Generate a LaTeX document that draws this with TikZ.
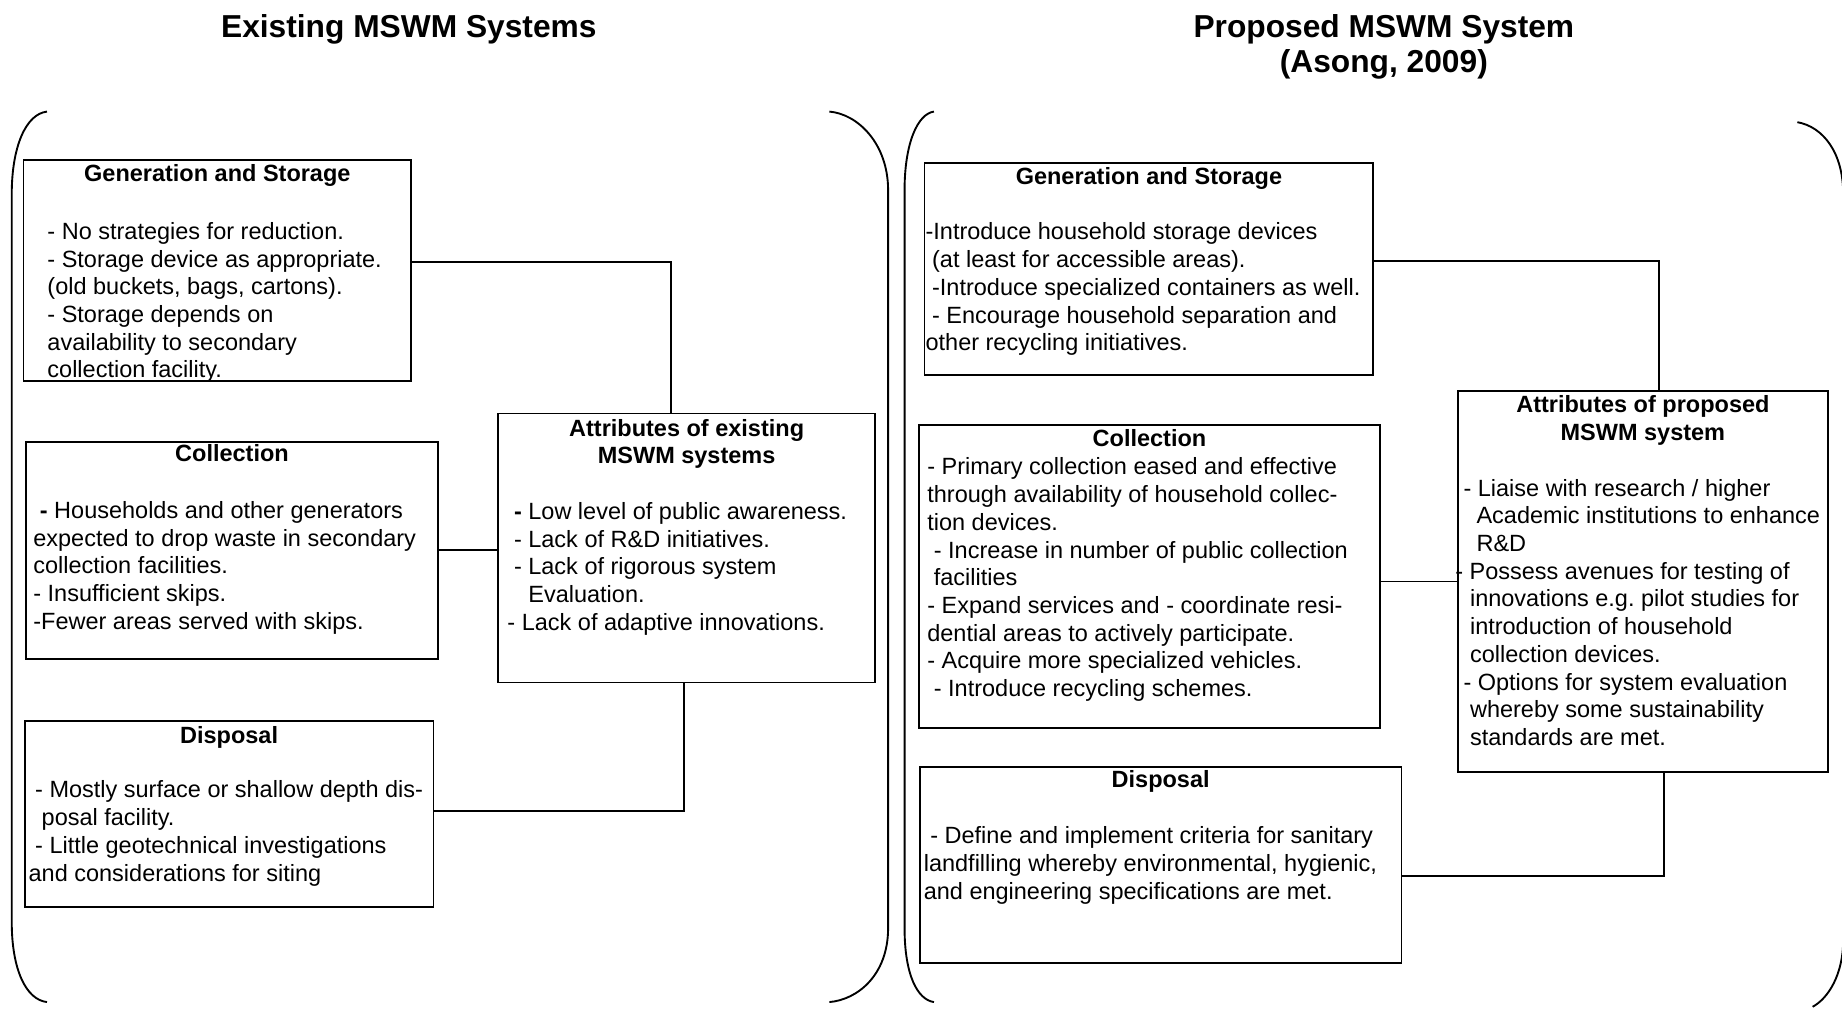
\documentclass[tikz,border=0pt]{standalone}
\usepackage{fontspec}
\setmainfont{Liberation Sans}
\usetikzlibrary{positioning}
\frenchspacing

\tikzset{
  box/.style={draw, line width=0.8pt, inner sep=0pt},
  head/.style={anchor=north, inner sep=0pt, align=center, font=\bfseries\fontsize{10}{11.8}\selectfont},
  txt/.style={anchor=north west, inner sep=0pt, align=left, font=\fontsize{10}{11.8}\selectfont},
  ttl/.style={anchor=north, inner sep=0pt, align=center, font=\bfseries\fontsize{13.5}{15}\selectfont},
  link/.style={line width=0.8pt},
  paren/.style={line width=0.8pt}
}
\newcommand{\lsp}[1][1]{\hspace*{#1\fontdimen2\font}}

\begin{document}
\begin{tikzpicture}[x=0.5pt,y=-0.5pt]
  \useasboundingbox (0,0) rectangle (1568,861);

  % titles
  \node[ttl] (ttlold) at (348,10.5) {\strut Existing MSWM Systems};
  \node[ttl] (ttlnew) at (1178,10.5) {\strut Proposed MSWM System\\(Asong, 2009)};

  % brackets
  \draw[paren] (40,95) .. controls (22,97) and (10,125) .. (10,165) -- (10,785)
    .. controls (10,825) and (22,851) .. (40,853);
  \draw[paren] (706,95) .. controls (730,97) and (756,122) .. (756,162) -- (756,790)
    .. controls (756,830) and (730,851) .. (706,853);
  \draw[paren] (795,95) .. controls (781,97) and (770,122) .. (770,162) -- (770,790)
    .. controls (770,830) and (781,851) .. (795,853);
  \draw[paren] (1530,104) .. controls (1552,108) and (1569,130) .. (1569,165) -- (1569,800)
    .. controls (1569,830) and (1556,850) .. (1543,857);

  % existing system
  \node[box, minimum width=165pt, minimum height=94pt] (gs1) at (185,230) {};
  \node[box, minimum width=175.5pt, minimum height=92.5pt] (col1) at (197.5,468.5) {};
  \node[box, minimum width=160.5pt, minimum height=114.5pt] (att1) at (584.5,466.5) {};
  \node[box, minimum width=174pt, minimum height=79pt] (dis1) at (195,693) {};

  \node[head] (gs1h) at (185,137.3) {\strut Generation and Storage};
  \node[txt] (gs1t) at (40,186.8) {\strut - No strategies for reduction.\\
    - Storage device as appropriate.\\
    (old buckets, bags, cartons).\\
    - Storage depends on\\
    availability to secondary\\
    collection facility.};

  \node[head] (col1h) at (197.5,376.3) {\strut Collection};
  \node[txt] (col1t) at (28,424.3) {\strut\lsp\textbf{-} Households and other generators\\
    expected to drop waste in secondary\\
    collection facilities.\\
    - Insufficient skips.\\
    -Fewer areas served with skips.};

  \node[head] (att1h) at (584.5,354.3) {\strut Attributes of existing\\MSWM systems};
  \node[txt] (att1t) at (431.6,425.3) {\strut\lsp\textbf{-} Low level of public awareness.\\
    \lsp- Lack of R\&D initiatives.\\
    \lsp- Lack of rigorous system\\
    \lsp\hphantom{- }Evaluation.\\
    - Lack of adaptive innovations.};

  \node[head] (dis1h) at (195,616.3) {\strut Disposal};
  \node[txt] (dis1t) at (24,662.3) {\strut\lsp- Mostly surface or shallow depth dis-\\
    \lsp[2]posal facility.\\
    \lsp- Little geotechnical investigations\\
    and considerations for siting};

  \draw[link] ([yshift=3.5pt]gs1.east) -| ([xshift=-6.75pt]att1.north);
  \draw[link] (col1.east) -- (col1.east -| att1.west);
  \draw[link] ([yshift=1.5pt]dis1.east) -| ([xshift=-1.25pt]att1.south);

  % proposed system
  \node[box, minimum width=191pt, minimum height=90pt] (gs2) at (978,229) {};
  \node[box, minimum width=196.5pt, minimum height=129pt] (col2) at (978.5,491) {};
  \node[box, minimum width=157.5pt, minimum height=162pt] (att2) at (1398.5,495) {};
  \node[box, minimum width=205pt, minimum height=83.5pt] (dis2) at (988,736.5) {};

  \node[head] (gs2h) at (978,140.3) {\strut Generation and Storage};
  \node[txt] (gs2t) at (787.5,187.3) {\strut -Introduce household storage devices\\
    \lsp(at least for accessible areas).\\
    \lsp-Introduce specialized containers as well.\\
    \lsp- Encourage household separation and\\
    other recycling initiatives.};

  \node[head] (col2h) at (978.5,363.3) {\strut Collection};
  \node[txt] (col2t) at (789,387.3) {\strut - Primary collection eased and effective\\
    through availability of household collec-\\
    tion devices.\\
    \lsp- Increase in number of public collection\\
    \lsp facilities\\
    - Expand services and - coordinate resi-\\
    dential areas to actively participate.\\
    - Acquire more specialized vehicles.\\
    \lsp- Introduce recycling schemes.};

  \node[head] (att2h) at (1398.5,334.3) {\strut Attributes of proposed\\MSWM system};
  \node[txt] (att2t) at (1245.4,405.3) {\strut - Liaise with research / higher\\
    \lsp[2]Academic institutions to enhance\\
    \lsp[2]R\&D\\
    \hspace*{-3.5pt}- Possess avenues for testing of\\
    \lsp innovations e.g. pilot studies for\\
    \lsp introduction of household\\
    \lsp collection devices.\\
    - Options for system evaluation\\
    \lsp whereby some sustainability\\
    \lsp standards are met.};

  \node[head] (dis2h) at (988,653.3) {\strut Disposal};
  \node[txt] (dis2t) at (786,701.3) {\strut\lsp- Define and implement criteria for sanitary\\
    landfilling whereby environmental, hygienic,\\
    and engineering specifications are met.};

  \draw[link] ([yshift=3.5pt]gs2.east) -| ([xshift=6.75pt]att2.north);
  \draw[link] (att2.west -| col2.east) -- (att2.west);
  \draw[link] ([yshift=-4.75pt]dis2.east) -| ([xshift=9pt]att2.south);
\end{tikzpicture}
\end{document}
